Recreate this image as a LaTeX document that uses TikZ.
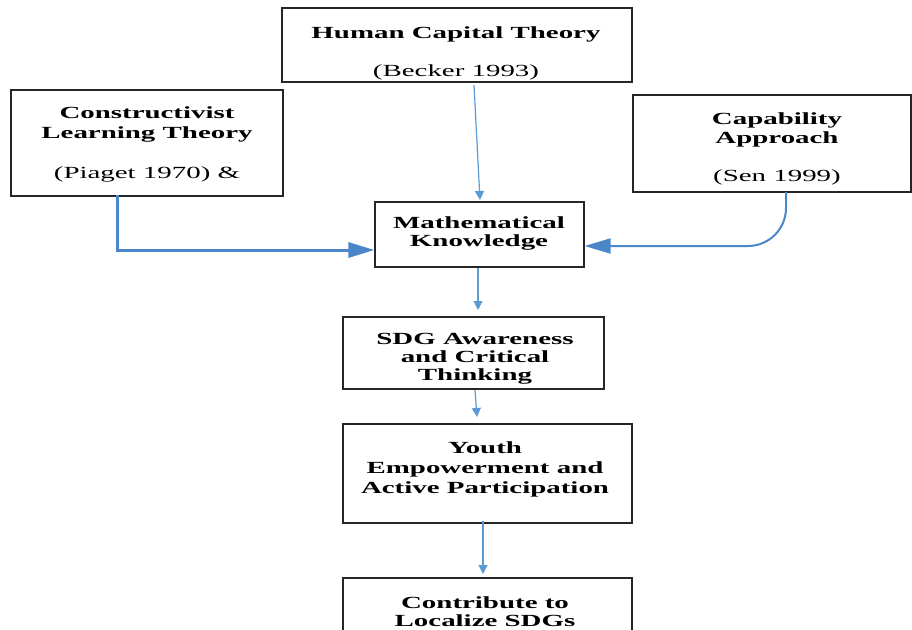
\documentclass[tikz,border=0pt]{standalone}
\usepackage{fontspec}
\setmainfont{Liberation Serif}[FakeStretch=1.7]
\usetikzlibrary{arrows.meta}
\definecolor{thinblue}{RGB}{91,155,213}
\definecolor{thickblue}{RGB}{74,134,200}
\begin{document}
\begin{tikzpicture}[x=1pt,y=-1pt,
  box/.style={draw=black!85,line width=1.2pt,minimum width=#1,inner sep=0pt},
  ln/.style={anchor=base,inner sep=0pt,font=\fontsize{17}{19}\selectfont\bfseries},
  lr/.style={anchor=base,inner sep=0pt,font=\fontsize{17}{19}\selectfont},
  thin/.style={draw=thinblue,line width=1.2pt,-{Triangle[length=9pt,width=9pt]}},
  thick/.style={draw=thickblue,line width=#1,-{Triangle[length=26pt,width=15pt]}}]
\useasboundingbox (0,0) rectangle (912,629);
\clip (0,0) rectangle (912,629);
% boxes
\node[box=350pt,minimum height=74pt] (hc) at (457,45) {};
\node[box=272pt,minimum height=106pt] (cl) at (147,143) {};
\node[box=278pt,minimum height=97pt] (ca) at (772,143.5) {};
\node[box=209pt,minimum height=65pt] (mk) at (479.5,234.5) {};
\node[box=261pt,minimum height=72pt] (sdg) at (473.5,353) {};
\node[box=289pt,minimum height=99pt] (yo) at (487.5,473.5) {};
\node[box=289pt,minimum height=64pt] (co) at (487.5,610) {};
% texts
\node[ln] at (456,38) {Human Capital Theory};
\node[lr] at (456,76) {(Becker 1993)};
\node[ln] at (147,118) {Constructivist};
\node[ln] at (147,138) {Learning Theory};
\node[lr] at (147,178) {(Piaget 1970) \&};
\node[ln] at (777,124) {Capability};
\node[ln] at (777,143) {Approach};
\node[lr] at (777,181) {(Sen 1999)};
\node[ln] at (479,228) {Mathematical};
\node[ln] at (479,246) {Knowledge};
\node[ln] at (475,344) {SDG Awareness};
\node[ln] at (475,362) {and Critical};
\node[ln] at (475,380) {Thinking};
\node[ln] at (485,453) {Youth};
\node[ln] at (485,473) {Empowerment and};
\node[ln] at (485,493) {Active Participation};
\node[ln] at (485,608) {Contribute to};
\node[ln] at (485,626) {Localize SDGs};
% connectors
\coordinate (hcs) at (474,85);
\coordinate (mkn) at (480,200);
\draw[thin] (hcs) -- (mkn);
\coordinate (cls) at (117,195);
\draw[thick=3pt] (cls) |- ([yshift=-15.5pt]mk.west);
\coordinate (cas) at (786,192);
\draw[thick=2pt,rounded corners=38pt] (cas) |- ([yshift=-11.5pt]mk.east);
\coordinate (sdgt) at (478,310);
\draw[thin] (478,268) -- (sdgt);
\coordinate (yot) at (477,417);
\draw[thin] (475,390) -- (yot);
\coordinate (cot) at (483,574);
\draw[thin] (483,521) -- (cot);
\end{tikzpicture}
\end{document}
